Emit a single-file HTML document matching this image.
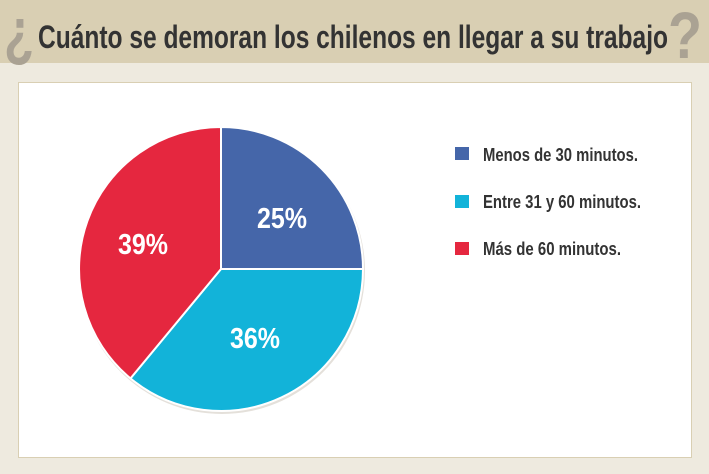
<!DOCTYPE html>
<html><head><meta charset="utf-8"><style>html,body{margin:0;padding:0;background:#eeeadf}svg{display:block}</style></head>
<body>
<svg width="709" height="474" xmlns="http://www.w3.org/2000/svg" font-family="Liberation Sans, sans-serif" font-weight="bold">
<rect width="709" height="474" fill="#eeeadf"/>
<rect width="709" height="63" fill="#d9cfb3"/>
<text x="4" y="54" font-size="66" fill="#aaa293" textLength="30" lengthAdjust="spacingAndGlyphs">¿</text>
<text x="668" y="58" font-size="66" fill="#aaa293" textLength="34" lengthAdjust="spacingAndGlyphs">?</text>
<text x="38" y="48" font-size="32" fill="#333" textLength="630" lengthAdjust="spacingAndGlyphs">Cuánto se demoran los chilenos en llegar a su trabajo</text>
<rect x="18.5" y="82.5" width="673" height="375" fill="#fff" stroke="#d9cfb3"/>
<circle cx="222" cy="271" r="143" fill="#e4e0da"/>
<path d="M221,269 L221,127 A142,142 0 0 1 363,269 Z" fill="#4566a9" stroke="#fff" stroke-width="2"/>
<path d="M221,269 L363,269 A142,142 0 0 1 130.5,378.4 Z" fill="#12b3d9" stroke="#fff" stroke-width="2"/>
<path d="M221,269 L130.5,378.4 A142,142 0 0 1 221,127 Z" fill="#e5273f" stroke="#fff" stroke-width="2"/>
<g fill="#fff" font-size="29">
<text x="257" y="228" textLength="50" lengthAdjust="spacingAndGlyphs">25%</text>
<text x="230" y="348" textLength="50" lengthAdjust="spacingAndGlyphs">36%</text>
<text x="118" y="254" textLength="50" lengthAdjust="spacingAndGlyphs">39%</text>
</g>
<rect x="455" y="147" width="14" height="13" fill="#4566a9"/>
<rect x="455" y="195" width="14" height="13" fill="#12b3d9"/>
<rect x="455" y="242" width="14" height="13" fill="#e5273f"/>
<g fill="#333" font-size="18">
<text x="483" y="161" textLength="155" lengthAdjust="spacingAndGlyphs">Menos de 30 minutos.</text>
<text x="483" y="208" textLength="158" lengthAdjust="spacingAndGlyphs">Entre 31 y 60 minutos.</text>
<text x="483" y="255" textLength="138" lengthAdjust="spacingAndGlyphs">Más de 60 minutos.</text>
</g>
</svg>
</body></html>
